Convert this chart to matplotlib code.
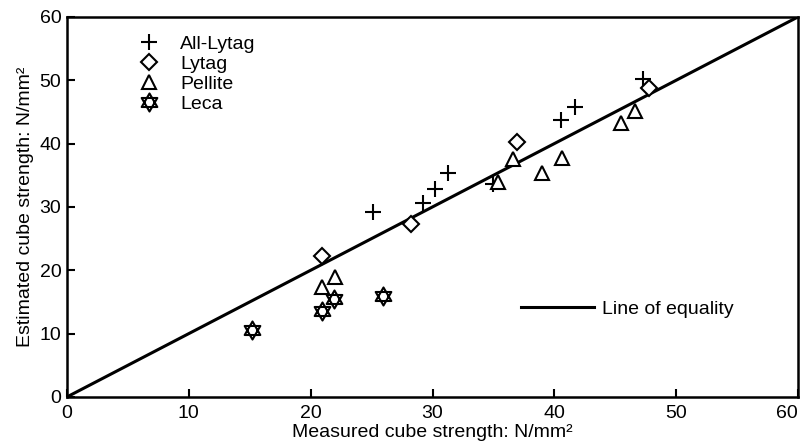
import numpy as np
import matplotlib
matplotlib.use("Agg")
import matplotlib.pyplot as plt
import matplotlib.transforms as mtransforms
from matplotlib.path import Path
from matplotlib.lines import Line2D

plt.rcParams['font.family'] = ['Liberation Sans', 'DejaVu Sans']
plt.rcParams['font.size'] = 14

# measured vs estimated cube strength, N/mm2
all_lytag_x = [25.1, 29.2, 30.2, 31.3, 35.0, 40.5, 41.7, 47.3]
all_lytag_y = [29.2, 30.6, 32.8, 35.4, 33.6, 43.7, 45.8, 50.2]

lytag_x = [20.9, 28.2, 36.9, 47.8]
lytag_y = [22.3, 27.3, 40.3, 48.8]

pellite_x = [20.9, 22.0, 35.4, 36.6, 39.0, 40.6, 45.5, 46.6]
pellite_y = [17.4, 19.0, 34.0, 37.5, 35.3, 37.7, 43.2, 45.1]

leca_x = [15.2, 20.9, 21.9, 25.9]
leca_y = [10.6, 13.5, 15.4, 16.0]

equality = [0, 60]

# six-pointed star made of two open triangles
c = np.cos(np.pi / 6)
star_verts = [(0, 1), (-c, -0.5), (c, -0.5), (0, 1),
              (0, -1), (-c, 0.5), (c, 0.5), (0, -1)]
star_codes = [Path.MOVETO, Path.LINETO, Path.LINETO, Path.CLOSEPOLY] * 2
star = Path(star_verts, star_codes)

fig = plt.figure(figsize=(8.07, 4.44), dpi=100)
ax = fig.add_axes([0.083, 0.106, 0.906, 0.856])

ax.plot(equality, equality, color='black', lw=2.2, zorder=1)

mk = dict(linestyle='none', color='black', mfc='white', mec='black', mew=1.5, zorder=3)
h1, = ax.plot(all_lytag_x, all_lytag_y, marker='+', markersize=12, **mk)
h2, = ax.plot(lytag_x, lytag_y, marker='D', markersize=8, **mk)
h3, = ax.plot(pellite_x, pellite_y, marker='^', markersize=10, **mk)
h4, = ax.plot(leca_x, leca_y, marker=star, markersize=13, **mk)

leg = ax.legend([h1, h2, h3, h4], ['All-Lytag', 'Lytag', 'Pellite', 'Leca'],
                loc='upper left', bbox_to_anchor=(0.083, 0.978), frameon=False,
                handlelength=1.2, handletextpad=1.0, labelspacing=0.13, borderpad=0)
ax.add_artist(leg)

eq_handle = Line2D([], [], color='black', lw=2.2)
ax.legend([eq_handle], ['Line of equality'], loc='center left',
          bbox_to_anchor=(0.607, 0.232), frameon=False,
          handlelength=3.8, handletextpad=0.4, borderpad=0)

ax.set_xlim(0, 60)
ax.set_ylim(0, 60)
ax.set_xticks(range(0, 61, 10))
ax.set_yticks(range(0, 61, 10))
ax.tick_params(direction='in', length=6, width=1.5, pad=4)
ax.tick_params(axis='x', pad=6)
for s in ax.spines.values():
    s.set_linewidth(1.8)

# keep the last x tick label inside the figure edge
fig.canvas.draw()
last = ax.get_xticklabels()[-1]
last.set_transform(last.get_transform() +
                   mtransforms.ScaledTranslation(-8 / 72, 0, fig.dpi_scale_trans))

ax.set_xlabel('Measured cube strength: N/mm²', labelpad=1)
ax.set_ylabel('Estimated cube strength: N/mm²', labelpad=4)

fig.savefig('out.png', dpi=100)
